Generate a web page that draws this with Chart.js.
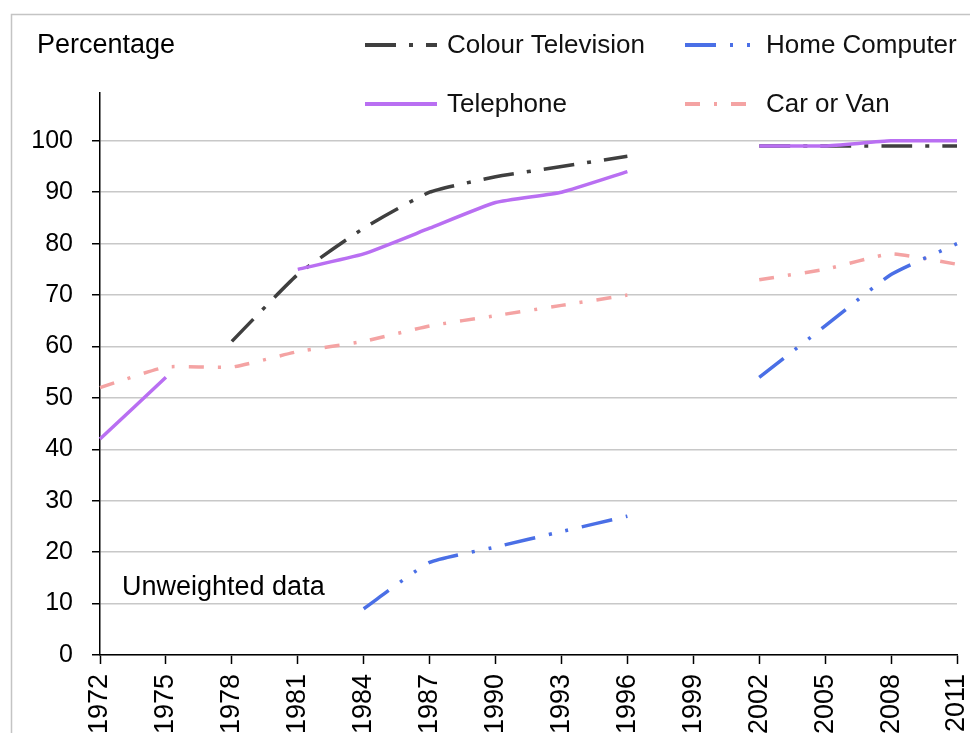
<!DOCTYPE html>
<html>
<head>
<meta charset="utf-8">
<script src="https://cdn.jsdelivr.net/npm/chart.js@4.4.0/dist/chart.umd.min.js"></script>
<style>
  html, body { margin: 0; padding: 0; background: #fff; overflow: hidden; }
  #wrap { position: absolute; left: 0; top: 0; width: 970px; height: 733px; }
</style>
</head>
<body>
<div id="wrap"><canvas id="c" width="970" height="733"></canvas></div>
<script>
const years = ['1972','1975','1978','1981','1984','1987','1990','1993','1996','1999','2002','2005','2008','2011'];
const colourTelevision = [null, null, 61, 74, 83, 90, 93, 95, 97, null, 99, 99, 99, 99];
const homeComputer     = [null, null, null, null, 9, 18, 21, 24, 27, null, 54, 64, 74, 80];
const telephone        = [42, 54, null, 75, 78, 83, 88, 90, 94, null, 99, 99, 100, 100];
const carOrVan         = [52, 56, 56, 59, 61, 64, 66, 68, 70, null, 73, 75, 78, 76];
const seriesNames = ['Colour Television', 'Home Computer', 'Telephone', 'Car or Van'];
const yTickMax = 100;
const yAxisTitle = 'Percentage';
const noteText = 'Unweighted data';

const FONT = '"Liberation Sans", Arial, sans-serif';

const styles = [
  { color: '#3f3f3f', dash: [31, 13, 4, 13], order: 1 },
  { color: '#4a6fe6', dash: [31, 14, 3, 14, 3, 14], order: 2 },
  { color: '#b96ff2', dash: [], order: 0 },
  { color: '#f4a3a3', dash: [15, 14, 3, 14], order: 3 }
];
const values = [colourTelevision, homeComputer, telephone, carOrVan];

const datasets = seriesNames.map((name, i) => ({
  label: name,
  data: values[i],
  borderColor: styles[i].color,
  backgroundColor: styles[i].color,
  borderWidth: 3.5,
  borderDash: styles[i].dash,
  pointRadius: 0,
  pointHoverRadius: 0,
  tension: 0.15,
  spanGaps: false,
  fill: false,
  order: styles[i].order
}));

const decor = {
  id: 'decor',
  beforeDraw(chart) {
    const ctx = chart.ctx;
    ctx.save();
    ctx.strokeStyle = '#c4c4c4';
    ctx.lineWidth = 1.5;
    ctx.strokeRect(11.5, 14.5, 1000, 800);
    ctx.restore();
  },
  afterDraw(chart) {
    const ctx = chart.ctx;
    ctx.save();
    ctx.fillStyle = '#000';
    ctx.textBaseline = 'middle';
    ctx.textAlign = 'left';
    ctx.font = '27px ' + FONT;
    ctx.fillText(yAxisTitle, 37, 46);
    ctx.fillText(noteText, 122, 588);

    // legend
    const pos = [
      { x1: 365, x2: 437, tx: 447, y: 45 },
      { x1: 685, x2: 750, tx: 766, y: 45 },
      { x1: 365, x2: 437, tx: 447, y: 104 },
      { x1: 685, x2: 748, tx: 766, y: 104 }
    ];
    ctx.font = '26px ' + FONT;
    chart.data.datasets.forEach((ds, i) => {
      const p = pos[i];
      ctx.save();
      ctx.strokeStyle = ds.borderColor;
      ctx.lineWidth = 4;
      ctx.setLineDash(ds.borderDash || []);
      ctx.beginPath();
      ctx.moveTo(p.x1, p.y);
      ctx.lineTo(p.x2, p.y);
      ctx.stroke();
      ctx.restore();
      ctx.fillStyle = '#111';
      ctx.fillText(ds.label, p.tx, p.y + 1);
    });
    ctx.restore();
  }
};

new Chart(document.getElementById('c'), {
  type: 'line',
  data: { labels: years, datasets },
  options: {
    responsive: false,
    animation: false,
    events: [],
    layout: { padding: { top: 93, right: 13, left: 0, bottom: 0 } },
    plugins: { legend: { display: false }, tooltip: { enabled: false } },
    scales: {
      x: {
        type: 'category',
        offset: false,
        afterFit(scale) { scale.height = 78; scale.paddingRight = 0; scale.paddingLeft = 0; },
        grid: { drawOnChartArea: false, drawTicks: true, tickLength: 9, tickColor: '#000', tickWidth: 1.5 },
        border: { display: true, color: '#000', width: 1.5 },
        ticks: {
          autoSkip: false,
          minRotation: 90,
          maxRotation: 90,
          padding: 10,
          color: '#000',
          font: { family: FONT, size: 27 }
        }
      },
      y: {
        min: 0,
        max: 109.3,
        afterFit(scale) { scale.width = 100; scale.paddingTop = 0; scale.paddingBottom = 0; },
        grid: { color: '#c8c8c8', lineWidth: 1.5, drawTicks: true, tickLength: 8, tickColor: '#000', tickWidth: 1.5 },
        border: { display: true, color: '#000', width: 1.5 },
        ticks: {
          stepSize: 10,
          includeBounds: false,
          padding: 19,
          color: '#000',
          font: { family: FONT, size: 25 },
          callback: (v) => (v <= yTickMax ? v : '')
        }
      }
    }
  },
  plugins: [decor]
});
</script>
</body>
</html>
